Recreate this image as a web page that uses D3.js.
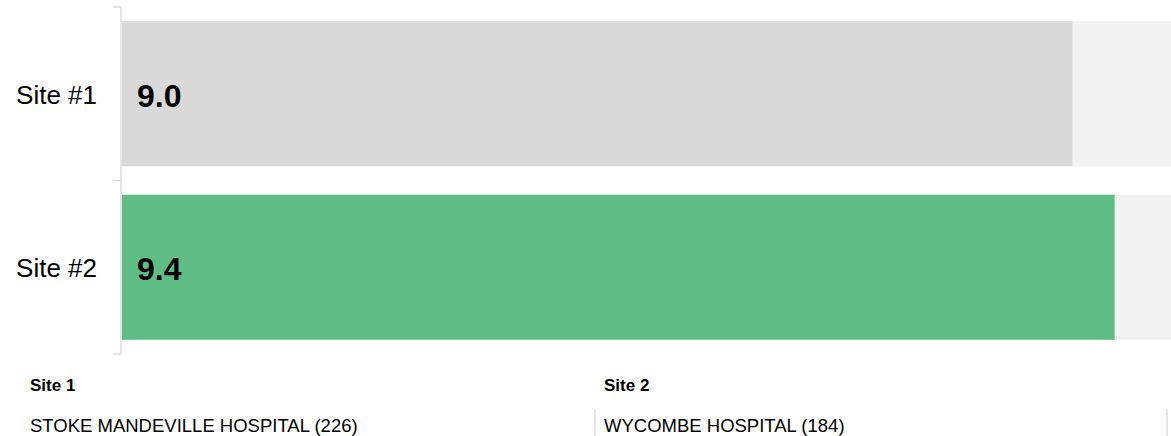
<!DOCTYPE html>
<html>
<head>
<meta charset="utf-8">
<script src="https://cdn.jsdelivr.net/npm/d3@7"></script>
<style>
  html, body { margin: 0; padding: 0; background: #fff; }
  svg { display: block; font-family: "Liberation Sans", Arial, sans-serif; }
</style>
</head>
<body>
<svg id="chart" width="1171" height="436"></svg>
<script>
const categories = ["Site #1", "Site #2"];
const values = [9.0, 9.4];
const valueLabels = ["9.0", "9.4"];
const maxValue = 10;
const siteHeaders = ["Site 1", "Site 2"];
const siteNames = ["STOKE MANDEVILLE HOSPITAL (226)", "WYCOMBE HOSPITAL (184)"];

const W = 1171, H = 436;
const left = 122, axisX = 121;
const svg = d3.select("#chart");

const x = d3.scaleLinear().domain([0, maxValue]).range([left, 1178]);
const y = d3.scaleBand().domain(categories).range([7, 354]).paddingInner(0.164).paddingOuter(0.082);

const barColors = ["#d9d9d9", "#5fbe86"];

// background tracks
svg.append("g").selectAll("rect").data(categories).join("rect")
  .attr("x", x(0)).attr("y", d => y(d))
  .attr("width", x(maxValue) - x(0)).attr("height", y.bandwidth())
  .attr("fill", "#f2f2f2");

// value bars
svg.append("g").selectAll("rect").data(values).join("rect")
  .attr("x", x(0)).attr("y", (d, i) => y(categories[i]))
  .attr("width", d => x(d) - x(0)).attr("height", y.bandwidth())
  .attr("fill", (d, i) => barColors[i]);

// axis: domain line with boundary ticks
const step = y.step();
const boundaries = [y.range()[0]].concat(categories.map(c => y(c) - y.paddingInner() * step / 2 + step));
boundaries[boundaries.length - 1] = y.range()[1];
const ax = svg.append("g").attr("stroke", "#dcdcdc").attr("stroke-width", 1.5);
ax.append("line").attr("x1", axisX).attr("x2", axisX).attr("y1", y.range()[0]).attr("y2", y.range()[1]);
ax.selectAll("line.tick").data(boundaries).join("line").attr("class", "tick")
  .attr("x1", axisX - 8).attr("x2", axisX).attr("y1", d => d).attr("y2", d => d);

// category labels
svg.append("g").selectAll("text").data(categories).join("text")
  .attr("x", 97).attr("y", d => y(d) + y.bandwidth() / 2 + 1)
  .attr("text-anchor", "end").attr("dominant-baseline", "central")
  .attr("font-size", 26).attr("fill", "#000")
  .text(d => d);

// value labels
svg.append("g").selectAll("text").data(valueLabels).join("text")
  .attr("x", x(0) + 15).attr("y", (d, i) => y(categories[i]) + y.bandwidth() / 2 + 2)
  .attr("dominant-baseline", "central")
  .attr("font-size", 32).attr("font-weight", "bold").attr("fill", "#000")
  .text(d => d);

// footer
const colX = [30, 604];
const sepX = [595, 1167];
svg.append("g").selectAll("line").data(sepX).join("line")
  .attr("x1", d => d).attr("x2", d => d).attr("y1", 409).attr("y2", 436)
  .attr("stroke", "#cccccc").attr("stroke-width", 1);
svg.append("g").selectAll("text").data(siteHeaders).join("text")
  .attr("x", (d, i) => colX[i]).attr("y", 391)
  .attr("font-size", 17).attr("font-weight", "bold").attr("fill", "#000")
  .text(d => d);
svg.append("g").selectAll("text").data(siteNames).join("text")
  .attr("x", (d, i) => colX[i]).attr("y", 432)
  .attr("font-size", 18.5).attr("fill", "#000")
  .text(d => d);
</script>
</body>
</html>
